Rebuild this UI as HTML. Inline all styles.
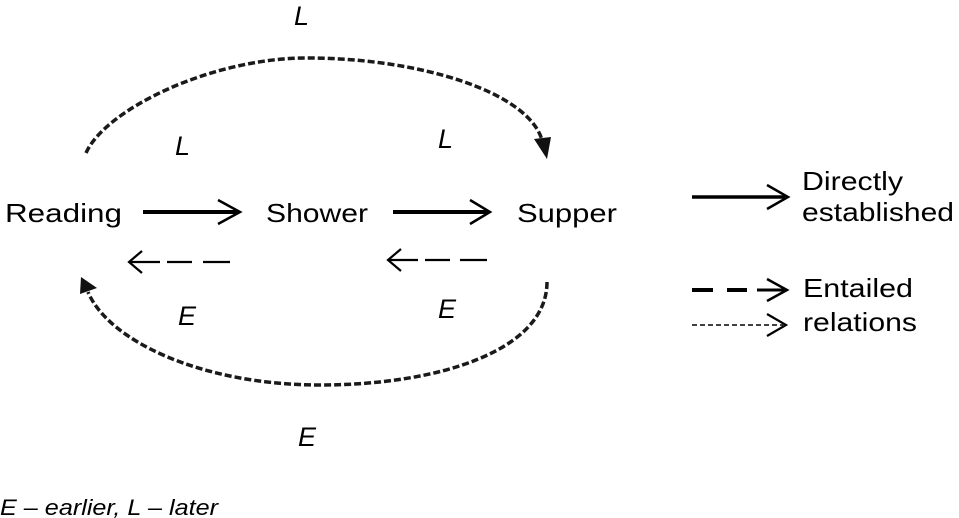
<!DOCTYPE html>
<html>
<head>
<meta charset="utf-8">
<style>
  html, body { margin:0; padding:0; background:#fff; }
  svg { display:block; }
  .t { font-family: "Liberation Sans", "DejaVu Sans", sans-serif; fill:#000; }
  .i { font-family: "Liberation Sans", "DejaVu Sans", sans-serif; font-style:italic; fill:#000; }
</style>
</head>
<body>
<svg width="959" height="518" viewBox="0 0 959 518" xmlns="http://www.w3.org/2000/svg">
  <!-- Top arc (L) -->
  <path d="M86,153 C105,110 210,58 307,58 C420,58 528,92 542,140" fill="none" stroke="#1a1a1a" stroke-width="3.5" stroke-dasharray="7 3"/>
  <polygon points="534,139 551,137 547,159" fill="#111"/>

  <!-- Bottom arc (E) -->
  <path d="M547,282 C547,350 440,385 320,385 C200,385 108,340 88,292" fill="none" stroke="#1a1a1a" stroke-width="3.5" stroke-dasharray="7 3"/>
  <polygon points="81,277 97,288 80,294" fill="#111"/>

  <!-- Main nodes -->
  <text class="t" x="5" y="222" font-size="26" textLength="117" lengthAdjust="spacingAndGlyphs">Reading</text>
  <text class="t" x="266" y="222" font-size="26" textLength="102" lengthAdjust="spacingAndGlyphs">Shower</text>
  <text class="t" x="517" y="222" font-size="26" textLength="100" lengthAdjust="spacingAndGlyphs">Supper</text>

  <!-- Solid arrows -->
  <line x1="143" y1="212" x2="238" y2="212" stroke="#000" stroke-width="4"/>
  <polyline points="218,200 240,212 218,224" fill="none" stroke="#000" stroke-width="2.5"/>
  <line x1="393" y1="212" x2="488" y2="212" stroke="#000" stroke-width="4"/>
  <polyline points="470,200 490,212 470,224" fill="none" stroke="#000" stroke-width="2.5"/>

  <!-- Dashed back arrows -->
  <polyline points="142,251 129,262 142,273" fill="none" stroke="#000" stroke-width="2.2"/>
  <line x1="130" y1="262" x2="160" y2="262" stroke="#000" stroke-width="2.2"/>
  <line x1="167" y1="262" x2="192" y2="262" stroke="#000" stroke-width="2.2"/>
  <line x1="203" y1="262" x2="230" y2="262" stroke="#000" stroke-width="2.2"/>

  <polyline points="401,249 388,260 401,271" fill="none" stroke="#000" stroke-width="2.2"/>
  <line x1="389" y1="260" x2="418" y2="260" stroke="#000" stroke-width="2.2"/>
  <line x1="425" y1="260" x2="450" y2="260" stroke="#000" stroke-width="2.2"/>
  <line x1="460" y1="260" x2="487" y2="260" stroke="#000" stroke-width="2.2"/>

  <!-- Italic labels -->
  <text class="i" x="294" y="25" font-size="27">L</text>
  <text class="i" x="175" y="155" font-size="27">L</text>
  <text class="i" x="438" y="148" font-size="27">L</text>
  <text class="i" x="178" y="325" font-size="27">E</text>
  <text class="i" x="438" y="318" font-size="27">E</text>
  <text class="i" x="298" y="446" font-size="27">E</text>

  <!-- Legend -->
  <line x1="692" y1="197" x2="785" y2="197" stroke="#000" stroke-width="3.5"/>
  <polyline points="767,185 788,197 767,209" fill="none" stroke="#000" stroke-width="2.5"/>
  <text class="t" x="802" y="190" font-size="26" textLength="101" lengthAdjust="spacingAndGlyphs">Directly</text>
  <text class="t" x="802" y="221" font-size="26" textLength="152" lengthAdjust="spacingAndGlyphs">established</text>

  <line x1="692" y1="290" x2="713" y2="290" stroke="#000" stroke-width="4"/>
  <line x1="727" y1="290" x2="747" y2="290" stroke="#000" stroke-width="4"/>
  <line x1="757" y1="290" x2="784" y2="290" stroke="#000" stroke-width="3"/>
  <polyline points="767,279 787,290 767,301" fill="none" stroke="#000" stroke-width="2.5"/>
  <text class="t" x="803" y="297" font-size="26" textLength="110" lengthAdjust="spacingAndGlyphs">Entailed</text>

  <line x1="692" y1="325" x2="783" y2="325" stroke="#000" stroke-width="1.6" stroke-dasharray="5 3"/>
  <polyline points="767,314 786,325 767,336" fill="none" stroke="#000" stroke-width="2.2"/>
  <text class="t" x="803" y="331" font-size="26" textLength="114" lengthAdjust="spacingAndGlyphs">relations</text>

  <!-- Footer -->
  <text class="i" x="0" y="515" font-size="22" textLength="218" lengthAdjust="spacingAndGlyphs">E – earlier, L – later</text>
</svg>
</body>
</html>
